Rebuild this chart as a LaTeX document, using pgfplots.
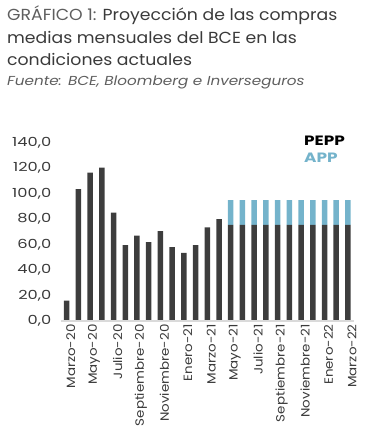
\documentclass[border=0pt]{standalone}
\usepackage{pgfplots}
\pgfplotsset{compat=1.18}
\usepackage{pgfplotstable}
\usepackage{fontspec}
\setmainfont{Poppins}
\newfontfamily\titlefont{Poppins}[FakeStretch=1.08]
\newfontfamily\subfont{Poppins}[FakeStretch=1.17]
\newfontfamily\tickfont{Poppins}[FakeStretch=1.3]
\newfontfamily\xtickfont{Poppins}[FakeStretch=1.12]
\newfontfamily\legfont{Poppins}[FakeStretch=1.25]
\definecolor{pepp}{HTML}{3D3D3D}
\definecolor{app}{HTML}{74B3CB}
\definecolor{titgray}{HTML}{5E5E5E}
\definecolor{titdark}{HTML}{3A3A3A}
\definecolor{axgray}{HTML}{DADADA}
\pgfplotstableread{
idx pepp app
0 16 0
1 103.5 0
2 116.5 0
3 120.5 0
4 85 0
5 59.5 0
6 67 0
7 62 0
8 70.5 0
9 58 0
10 53.5 0
11 59.5 0
12 73.5 0
13 80 0
14 75.5 19.5
15 75.5 19.5
16 75.5 19.5
17 75.5 19.5
18 75.5 19.5
19 75.5 19.5
20 75.5 19.5
21 75.5 19.5
22 75.5 19.5
23 75.5 19.5
24 75.5 19.5
}\datatable
\begin{document}
\begin{tikzpicture}[x=1pt,y=1pt]
\path[use as bounding box] (0,0) rectangle (365,443);
\node[anchor=base west, inner sep=0, font=\titlefont\fontsize{16}{18}\selectfont] at (7,422) {\color{titgray}GRÁFICO 1: \color{titdark}Proyección de las compras};
\node[anchor=base west, inner sep=0, font=\titlefont\fontsize{16}{18}\selectfont, text=titdark] at (7,399.7) {medias mensuales del BCE en las};
\node[anchor=base west, inner sep=0, font=\titlefont\fontsize{16}{18}\selectfont, text=titdark] at (7,377) {condiciones actuales};
\node[anchor=base west, inner sep=0, font=\subfont\fontsize{13}{15}\selectfont\itshape, text=titgray] at (7,357) {Fuente: BCE, Bloomberg e Inverseguros};
\node[anchor=base west, inner sep=0, font=\legfont\fontsize{13.5}{15}\selectfont\bfseries, text=black] at (304,297.3) {PEPP};
\node[anchor=base west, inner sep=0, font=\legfont\fontsize{13.5}{15}\selectfont\bfseries, text=app] at (304,280.3) {APP};
\begin{axis}[
  at={(60.8pt,122pt)}, anchor=south west,
  scale only axis, width=293pt, height=178.3pt,
  xmin=-0.5, xmax=24.5, ymin=0, ymax=140,
  ybar stacked, bar width=5.5pt,
  axis line style={draw=none},
  major tick length=0pt,
  xtick={0,2,...,24},
  xticklabels={Marzo-20,Mayo-20,Julio-20,Septiembre-20,Noviembre-20,Enero-21,Marzo-21,Mayo-21,Julio-21,Septiembre-21,Noviembre-21,Enero-22,Marzo-22},
  xticklabel style={rotate=90, anchor=east, font=\xtickfont\fontsize{12}{13}\selectfont, text=titdark, yshift=-4pt},
  ytick={0,20,...,140},
  yticklabel style={font=\tickfont\fontsize{12.5}{13}\selectfont, text=titdark, xshift=-6pt},
  /pgf/number format/assume math mode=true,
  /pgf/number format/.cd, fixed, fixed zerofill, precision=1, use comma, 1000 sep={},
  /pgfplots/.cd,
  clip=false,
]
\draw[axgray, line width=2pt] (axis cs:-0.5,0) -- (axis cs:24.5,0);
\addplot[fill=pepp, draw=none] table[x=idx, y=pepp] {\datatable};
\addplot[fill=app, draw=none] table[x=idx, y=app] {\datatable};
\end{axis}
\end{tikzpicture}
\end{document}
